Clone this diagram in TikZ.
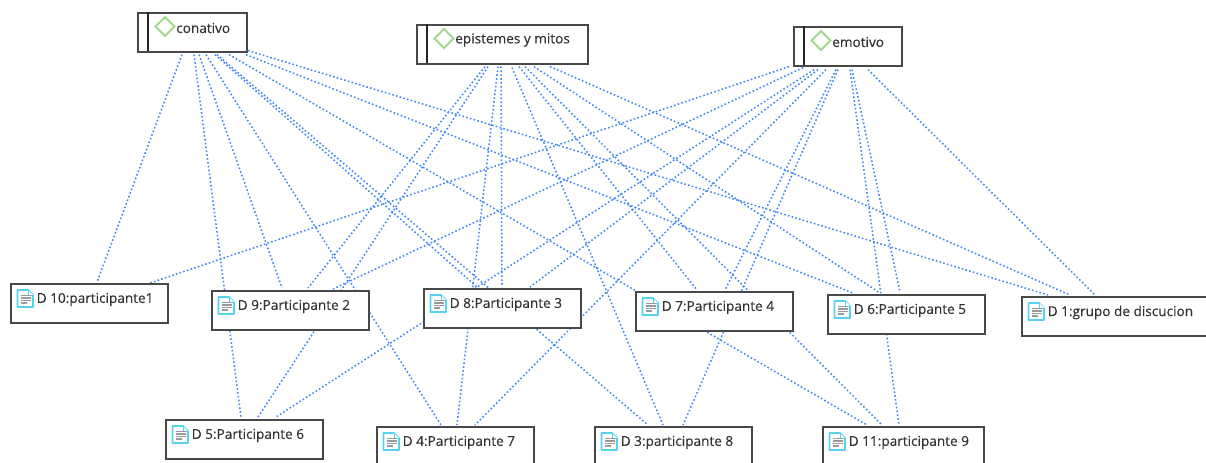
\documentclass[tikz,border=0pt]{standalone}
\usepackage{fontspec}
\setmainfont{Open Sans}[FakeBold=0.25]
\usetikzlibrary{backgrounds}
\definecolor{linkblue}{HTML}{3F86F5}
\definecolor{boxgrey}{HTML}{484848}
\definecolor{txtgrey}{HTML}{333333}
\definecolor{doccyan}{HTML}{55D3EE}
\definecolor{docline}{HTML}{9A9A9A}
\definecolor{codegreen}{HTML}{A5D88F}
\tikzset{
  x=0.75pt, y=-0.75pt,
  boxnode/.style={draw=boxgrey, line width=1.25pt, fill=white, anchor=north west, inner sep=0pt, minimum height=29.2pt},
  txtnode/.style={anchor=west, inner sep=0pt, text=txtgrey, font=\fontsize{10.2pt}{12pt}\selectfont},
  link/.style={linkblue, line width=1.15pt, dash pattern=on 1.2pt off 1.7pt},
  docicon/.style={draw=doccyan, line width=1.2pt, fill=white, line join=round},
  docrule/.style={docline, line width=1pt},
  codeicon/.style={draw=codegreen, line width=1.5pt, fill=white},
  divider/.style={draw=black!85, line width=1pt}
}
% name, left, top, width in px, text
\newcommand{\docbox}[5]{%
  \node[boxnode, minimum width=#4*0.75pt] (#1) at (#2,#3) {};
  \node[txtnode] (#1-t) at ([shift={(26.5,16.5)}]#1.north west) {#5};
  \begin{scope}[shift={(#1.north west)}]
    \draw[docicon] (7.5,7) -- (18,7) -- (23,12) -- (23,24) -- (7.5,24) -- cycle;
    \draw[docicon, line width=0.7pt] (18,7) -- (18,12) -- (23,12);
    \foreach \yy in {12.5,15,17.5} \draw[docrule] (10.5,\yy) -- (20.5,\yy);
    \draw[docrule] (10.5,20) -- (17,20);
  \end{scope}
}
\newcommand{\codebox}[5]{%
  \node[boxnode, minimum width=#4*0.75pt] (#1) at (#2,#3) {};
  \node[txtnode] (#1-t) at ([shift={(39,16)}]#1.north west) {#5};
  \begin{scope}[shift={(#1.north west)}]
    \draw[divider] (11,0) -- (11,39);
    \draw[codeicon] (28,5) -- (37.5,14.5) -- (28,24) -- (18.5,14.5) -- cycle;
  \end{scope}
}
% from node, dx, dy (south west), to node, dx, dy (north west)
\newcommand{\lnk}[6]{%
  \draw[link] ([shift={(#2,#3)}]#1.south west) -- ([shift={(#5,#6)}]#4.north west);
}
\begin{document}
\begin{tikzpicture}
\useasboundingbox (0,0) rectangle (1206,462);
\clip (0,0) rectangle (1206,462);
\codebox{con}{137}{12}{109}{conativo}
\codebox{epi}{416}{24}{171}{epistemes y mitos}
\codebox{emo}{793}{26}{108}{emotivo}
\docbox{dten}{10}{283}{157}{D 10:participante1}
\docbox{dnine}{211}{290}{157}{D 9:Participante 2}
\docbox{deight}{423}{288}{157}{D 8:Participante 3}
\docbox{dseven}{635}{291}{157}{D 7:Participante 4}
\docbox{dsix}{827}{294}{157}{D 6:Participante 5}
\docbox{done}{1021}{296}{190}{D 1:grupo de discucion}
\docbox{dfive}{165}{419}{157}{D 5:Participante 6}
\docbox{dfour}{376}{426}{157}{D 4:Participante 7}
\docbox{dthree}{594}{426}{157}{D 3:participante 8}
\docbox{deleven}{822}{426}{161}{D 11:participante 9}
\begin{scope}[on background layer]
% conativo
\lnk{con}{45}{2}{dten}{87}{-1}
\lnk{con}{57}{2}{dfive}{76}{-2}
\lnk{con}{62}{2}{dnine}{71}{-2}
\lnk{con}{69}{2}{dfour}{65}{-1}
\lnk{con}{78}{2}{deight}{54}{-1}
\lnk{con}{80}{2}{dthree}{54}{-1}
\lnk{con}{92}{2}{deleven}{45}{-1}
\lnk{con}{109}{2}{dsix}{26}{-1}
\lnk{con}{111}{-2}{done}{27}{-1}
% epistemes
\lnk{epi}{69}{2}{dnine}{97}{-2}
\lnk{epi}{72}{2}{dfive}{93}{-2}
\lnk{epi}{82}{2}{dfour}{81}{-1}
\lnk{epi}{85}{2}{deight}{79}{-1}
\lnk{epi}{96}{3}{dthree}{69}{-1}
\lnk{epi}{103}{2}{dseven}{62}{-1}
\lnk{epi}{109}{2}{deleven}{60}{-1}
\lnk{epi}{118}{2}{dsix}{53}{-1}
\lnk{epi}{134}{2}{done}{49}{-1}
% emotivo
\lnk{emo}{-4}{0}{dten}{140}{0}
\lnk{emo}{10}{1}{dnine}{122}{-1}
\lnk{emo}{21}{3}{dfive}{111}{-2}
\lnk{emo}{25}{3}{deight}{107}{-1}
\lnk{emo}{33}{3}{dfour}{99}{-1}
\lnk{emo}{43}{3}{dseven}{90}{-1}
\lnk{emo}{45}{3}{dthree}{89}{-1}
\lnk{emo}{57}{3}{deleven}{77}{-1}
\lnk{emo}{59}{3}{dsix}{73}{-2}
\lnk{emo}{75}{3}{done}{74}{-1}
\end{scope}
\end{tikzpicture}
\end{document}
